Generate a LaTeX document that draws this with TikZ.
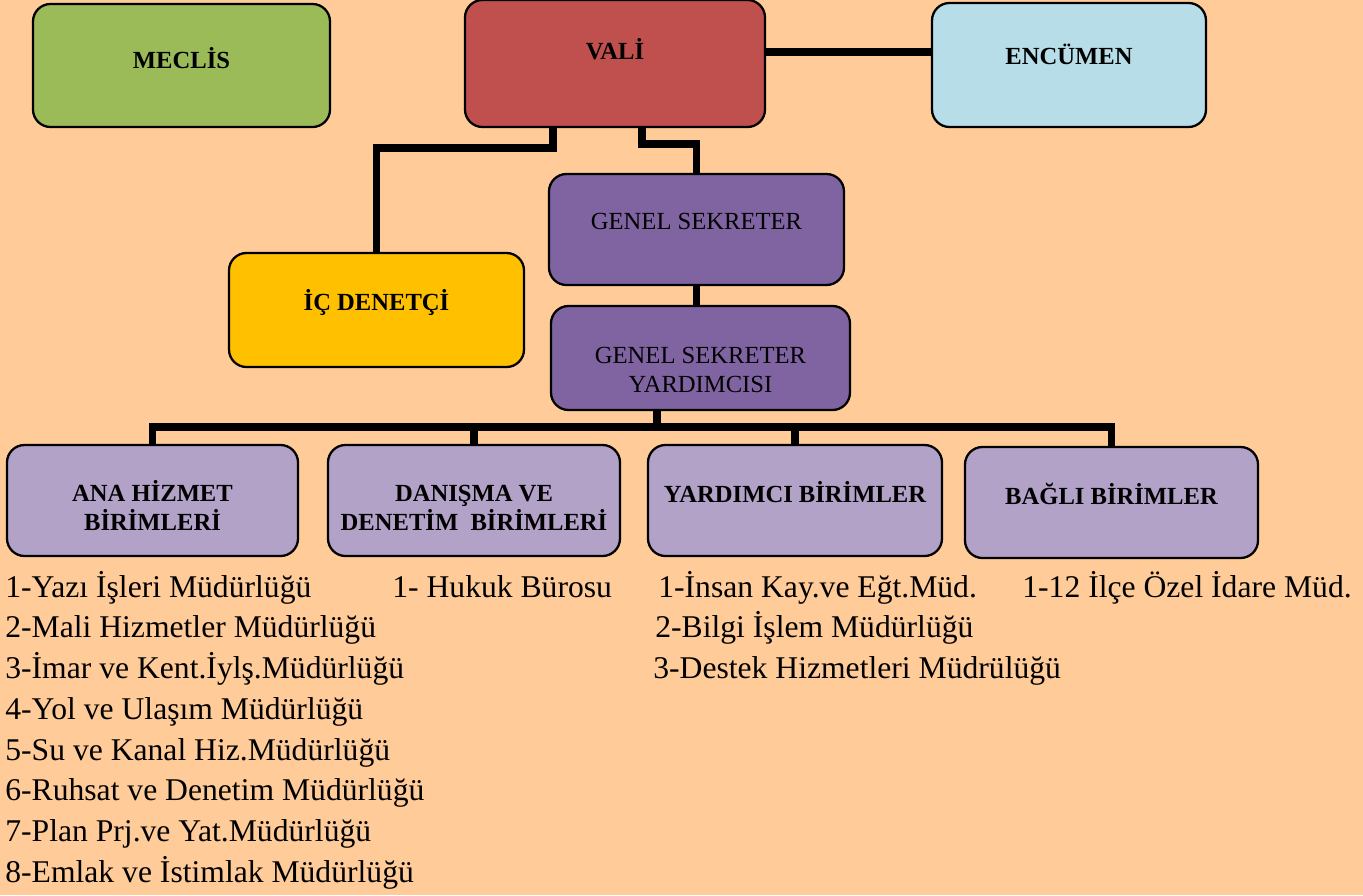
\documentclass[tikz,border=0pt]{standalone}
\usepackage{fontspec}
\setmainfont{Liberation Serif}
\usepackage{xcolor}
\usepackage{tikz}

\definecolor{zemin}{HTML}{FFCB99}
\definecolor{yesil}{HTML}{9BBB59}
\definecolor{kirmizi}{HTML}{C0504D}
\definecolor{acikmavi}{HTML}{B7DEE8}
\definecolor{altin}{HTML}{FFC000}
\definecolor{mor}{HTML}{8064A2}
\definecolor{lila}{HTML}{B2A2C7}

\tikzset{
	kutu/.style={draw, line width=1.3pt, rounded corners=0.35cm, inner sep=0pt,
		align=center, font=\fontsize{14}{16.5}\selectfont\bfseries},
	hat/.style={line width=4.5pt},
	madde/.style={anchor=base west, inner sep=0pt, font=\fontsize{18}{21}\selectfont}
}

\begin{document}
\begin{tikzpicture}
		\fill[zemin] (0,0) rectangle (27.26,-17.9);
		\useasboundingbox (0,0) rectangle (27.26,-17.9);
		% ust sira
		\node[kutu, fill=yesil, minimum width=5.94cm, text height=1.3cm, text depth=1.16cm] (meclis) at (3.63,-1.31) {MECLİS};
		\node[kutu, fill=kirmizi, minimum width=6.0cm, text height=1.2cm, text depth=1.34cm] (vali) at (12.3,-1.27) {VALİ};
		\node[kutu, fill=acikmavi, minimum width=5.48cm, text height=1.24cm, text depth=1.24cm] (encumen) at (21.38,-1.3) {ENCÜMEN};
		% orta
		\node[kutu, fill=mor, font=\fontsize{14}{16.5}\selectfont, minimum width=5.9cm, text height=1.1cm, text depth=1.12cm] (gensek) at (13.93,-4.59) {GENEL SEKRETER};
		\node[kutu, fill=altin, minimum width=5.9cm, text height=1.14cm, text depth=1.14cm] (icdenetci) at (7.53,-6.2) {İÇ DENETÇİ};
		\node[kutu, fill=mor, font=\fontsize{14}{16.5}\selectfont, minimum width=5.98cm, text height=1.72cm, text depth=0.36cm] (gsy) at (14.01,-7.16) {GENEL SEKRETER\\YARDIMCISI};
		% birimler
		\node[kutu, fill=lila, minimum width=5.82cm, text height=1.7cm, text depth=0.52cm] (ana) at (3.05,-10.01) {ANA HİZMET\\BİRİMLERİ};
		\node[kutu, fill=lila, minimum width=5.84cm, text height=1.7cm, text depth=0.52cm] (danisma) at (9.48,-10.01) {DANIŞMA VE\\DENETİM\ \ BİRİMLERİ};
		\node[kutu, fill=lila, minimum width=5.88cm, text height=1.14cm, text depth=1.08cm] (yardimci) at (15.9,-10.01) {YARDIMCI BİRİMLER};
		\node[kutu, fill=lila, minimum width=5.86cm, text height=1.14cm, text depth=1.08cm] (bagli) at (22.23,-10.05) {BAĞLI BİRİMLER};
		% hatlar
		\draw[hat] ([yshift=6.5pt]vali.east) -- ([yshift=6.5pt]vali.east -| encumen.west);
		\draw[hat] ([xshift=-1.24cm]vali.south) -- ++(0,-0.4) -| (icdenetci.north);
		\draw[hat] ([xshift=0.54cm]vali.south) -- ++(0,-0.32) -| (gensek.north);
		\draw[hat] (gensek.south) -- (gensek.south |- gsy.north);
		\draw[hat] ([xshift=-0.87cm]gsy.south) -- ++(0,-0.36);
		\draw[hat] (ana.north) -- ++(0,0.34) -| (bagli.north);
		\draw[hat] (danisma.north) -- ++(0,0.34);
		\draw[hat] (yardimci.north) -- ++(0,0.34);
		% ana hizmet birimleri
		\node[madde] (ana1) at (0.1,-11.94) {1-Yazı İşleri Müdürlüğü};
		\node[madde] (ana2) at (0.1,-12.75) {2-Mali Hizmetler Müdürlüğü};
		\node[madde] (ana3) at (0.1,-13.57) {3-İmar ve Kent.İylş.Müdürlüğü};
		\node[madde] (ana4) at (0.1,-14.38) {4-Yol ve Ulaşım Müdürlüğü};
		\node[madde] (ana5) at (0.1,-15.20) {5-Su ve Kanal Hiz.Müdürlüğü};
		\node[madde] (ana6) at (0.1,-16.01) {6-Ruhsat ve Denetim Müdürlüğü};
		\node[madde] (ana7) at (0.1,-16.82) {7-Plan Prj.ve Yat.Müdürlüğü};
		\node[madde] (ana8) at (0.1,-17.64) {8-Emlak ve İstimlak Müdürlüğü};
		% danisma, yardimci, bagli
		\node[madde] (dan1) at (7.84,-11.94) {1- Hukuk Bürosu};
		\node[madde] (yar1) at (13.16,-11.94) {1-İnsan Kay.ve Eğt.Müd.};
		\node[madde] (yar2) at (13.1,-12.75) {2-Bilgi İşlem Müdürlüğü};
		\node[madde] (yar3) at (13.06,-13.57) {3-Destek Hizmetleri Müdrülüğü};
		\node[madde] (bag1) at (20.44,-11.94) {1-12 İlçe Özel İdare Müd.};
	\end{tikzpicture}
\end{document}
